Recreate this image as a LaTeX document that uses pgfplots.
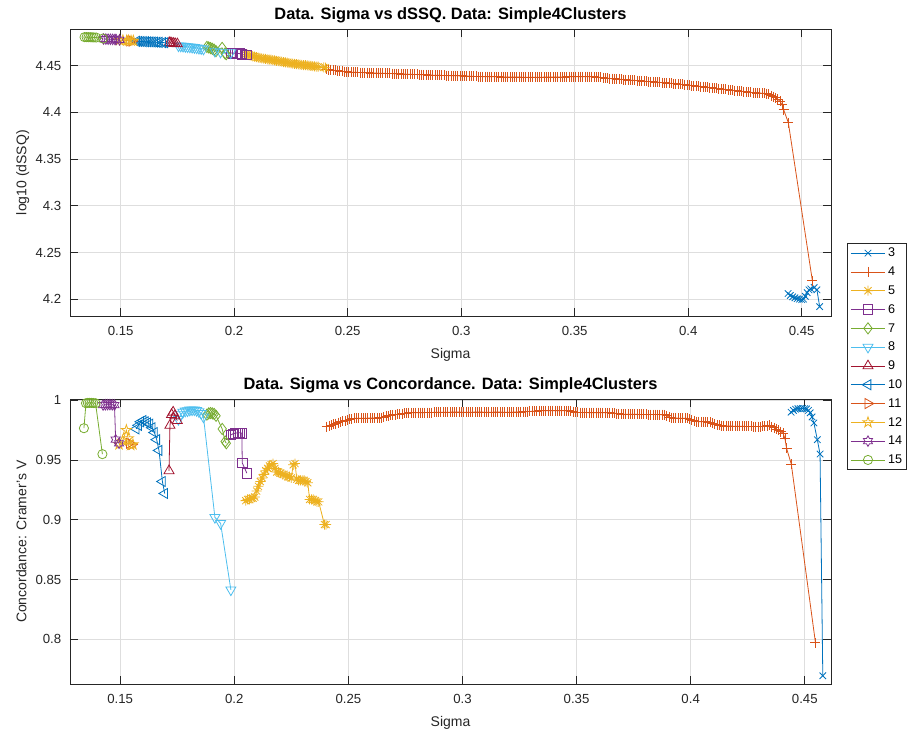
\documentclass[border=0pt]{standalone}
\usepackage{fontspec}
\setmainfont{Liberation Sans}
\usepackage{pgfplots}
\usepackage{pgfplotstable}
\pgfplotsset{compat=1.18}

\definecolor{c1}{rgb}{0,0.447,0.741}
\definecolor{c2}{rgb}{0.85,0.325,0.098}
\definecolor{c3}{rgb}{0.929,0.694,0.125}
\definecolor{c4}{rgb}{0.494,0.184,0.556}
\definecolor{c5}{rgb}{0.466,0.674,0.188}
\definecolor{c6}{rgb}{0.301,0.745,0.933}
\definecolor{c7}{rgb}{0.635,0.078,0.184}
\definecolor{axgray}{rgb}{0.15,0.15,0.15}

\pgfdeclareplotmark{mstar}{%
  \pgfpathmoveto{\pgfqpoint{-\pgfplotmarksize}{0pt}}\pgfpathlineto{\pgfqpoint{\pgfplotmarksize}{0pt}}%
  \pgfpathmoveto{\pgfqpoint{0pt}{-\pgfplotmarksize}}\pgfpathlineto{\pgfqpoint{0pt}{\pgfplotmarksize}}%
  \pgfpathmoveto{\pgfqpoint{-.7071\pgfplotmarksize}{-.7071\pgfplotmarksize}}\pgfpathlineto{\pgfqpoint{.7071\pgfplotmarksize}{.7071\pgfplotmarksize}}%
  \pgfpathmoveto{\pgfqpoint{-.7071\pgfplotmarksize}{.7071\pgfplotmarksize}}\pgfpathlineto{\pgfqpoint{.7071\pgfplotmarksize}{-.7071\pgfplotmarksize}}%
  \pgfusepathqstroke}
\pgfdeclareplotmark{pentagram}{%
  \pgfpathmoveto{\pgfpointpolar{90}{1.3\pgfplotmarksize}}%
  \pgfpathlineto{\pgfpointpolar{126}{0.5\pgfplotmarksize}}%
  \pgfpathlineto{\pgfpointpolar{162}{1.3\pgfplotmarksize}}%
  \pgfpathlineto{\pgfpointpolar{198}{0.5\pgfplotmarksize}}%
  \pgfpathlineto{\pgfpointpolar{234}{1.3\pgfplotmarksize}}%
  \pgfpathlineto{\pgfpointpolar{270}{0.5\pgfplotmarksize}}%
  \pgfpathlineto{\pgfpointpolar{306}{1.3\pgfplotmarksize}}%
  \pgfpathlineto{\pgfpointpolar{342}{0.5\pgfplotmarksize}}%
  \pgfpathlineto{\pgfpointpolar{18}{1.3\pgfplotmarksize}}%
  \pgfpathlineto{\pgfpointpolar{54}{0.5\pgfplotmarksize}}%
  \pgfpathclose\pgfusepathqstroke}
\pgfdeclareplotmark{hexagram}{%
  \pgfpathmoveto{\pgfpointpolar{90}{1.25\pgfplotmarksize}}%
  \pgfpathlineto{\pgfpointpolar{120}{0.72\pgfplotmarksize}}%
  \pgfpathlineto{\pgfpointpolar{150}{1.25\pgfplotmarksize}}%
  \pgfpathlineto{\pgfpointpolar{180}{0.72\pgfplotmarksize}}%
  \pgfpathlineto{\pgfpointpolar{210}{1.25\pgfplotmarksize}}%
  \pgfpathlineto{\pgfpointpolar{240}{0.72\pgfplotmarksize}}%
  \pgfpathlineto{\pgfpointpolar{270}{1.25\pgfplotmarksize}}%
  \pgfpathlineto{\pgfpointpolar{300}{0.72\pgfplotmarksize}}%
  \pgfpathlineto{\pgfpointpolar{330}{1.25\pgfplotmarksize}}%
  \pgfpathlineto{\pgfpointpolar{0}{0.72\pgfplotmarksize}}%
  \pgfpathlineto{\pgfpointpolar{30}{1.25\pgfplotmarksize}}%
  \pgfpathlineto{\pgfpointpolar{60}{0.72\pgfplotmarksize}}%
  \pgfpathclose\pgfusepathqstroke}

\pgfplotsset{
  s3/.style={c1, line width=0.4pt, mark=x, mark size=2.3pt, mark options={solid}},
  s4/.style={c2, line width=0.4pt, mark=+, mark size=2.5pt, mark options={solid}},
  s5/.style={c3, line width=0.4pt, mark=mstar, mark size=2.5pt, mark options={solid}},
  s6/.style={c4, line width=0.4pt, mark=square, mark size=2.4pt, mark options={solid}},
  s7/.style={c5, line width=0.4pt, mark=diamond, mark size=2.8pt, mark options={solid}},
  s8/.style={c6, line width=0.4pt, mark=triangle, mark size=2.9pt, mark options={solid, rotate=180}},
  s9/.style={c7, line width=0.4pt, mark=triangle, mark size=2.9pt, mark options={solid}},
  s10/.style={c1, line width=0.4pt, mark=triangle, mark size=2.9pt, mark options={solid, rotate=90}},
  s11/.style={c2, line width=0.4pt, mark=triangle, mark size=2.9pt, mark options={solid, rotate=-90}},
  s12/.style={c3, line width=0.4pt, mark=pentagram, mark size=2.1pt, mark options={solid}},
  s14/.style={c4, line width=0.4pt, mark=hexagram, mark size=2.1pt, mark options={solid}},
  s15/.style={c5, line width=0.4pt, mark=o, mark size=2.3pt, mark options={solid}},
  myaxis/.style={
    scale only axis, width=380.5pt,
    axis line style={draw=axgray, line width=0.4pt},
    tick style={draw=axgray, line width=0.4pt},
    tick align=inside, major tick length=3.8pt,
    grid=major, grid style={draw=black!13, line width=0.4pt},
    ticklabel style={font=\fontsize{6.6}{7}\selectfont, text=axgray},
    /pgf/number format/assume math mode=true,
    scaled ticks=false,
    xtick={0.15,0.2,0.25,0.3,0.35,0.4,0.45},
    xticklabel style={anchor=base, yshift=-10pt},
    yticklabel style={anchor=east, inner sep=0pt, xshift=-4.2pt},
    label style={font=\fontsize{7}{8}\selectfont, text=axgray},
    title style={font=\bfseries\fontsize{8.2}{9}\selectfont, at={(axis description cs:0.5,1)}, anchor=base, yshift=-1.2pt},
    xlabel style={at={(axis description cs:0.5,0)}, anchor=base, yshift=-21.5pt},
    ylabel style={at={(axis description cs:-0.0572,0.5)}, anchor=base},
  },
}

% columns: sigma, log10(dSSQ), Cramer's V
\pgfplotstableread{
x d c
0.4440 4.2060 0.9900
0.4450 4.2040 0.9915
0.4460 4.2025 0.9925
0.4470 4.2015 0.9930
0.4480 4.2005 0.9930
0.4490 4.2000 0.9932
0.4500 4.1995 0.9930
0.4508 4.2000 0.9928
0.4516 4.2030 0.9915
0.4524 4.2070 0.9895
0.4532 4.2100 0.9860
0.4540 4.2110 0.9810
0.4555 4.2125 0.9670
0.4567 4.2100 0.9550
0.4579 4.1920 0.7695
}\tthree

\pgfplotstableread{
x d c
0.2405 4.4460 0.9780
0.2415 4.4457 0.9785
0.2425 4.4454 0.9790
0.2435 4.4451 0.9798
0.2445 4.4448 0.9805
0.2455 4.4445 0.9812
0.2465 4.4442 0.9820
0.2475 4.4439 0.9825
0.2485 4.4436 0.9830
0.2495 4.4434 0.9835
0.2505 4.4431 0.9840
0.2515 4.4430 0.9844
0.2525 4.4429 0.9848
0.2535 4.4428 0.9849
0.2545 4.4427 0.9850
0.2555 4.4426 0.9850
0.2565 4.4426 0.9850
0.2575 4.4425 0.9850
0.2585 4.4424 0.9850
0.2595 4.4423 0.9851
0.2605 4.4422 0.9852
0.2615 4.4421 0.9852
0.2625 4.4420 0.9852
0.2635 4.4419 0.9853
0.2645 4.4418 0.9855
0.2655 4.4418 0.9860
0.2665 4.4417 0.9865
0.2675 4.4416 0.9870
0.2685 4.4416 0.9875
0.2695 4.4415 0.9878
0.2705 4.4414 0.9880
0.2715 4.4413 0.9881
0.2725 4.4412 0.9882
0.2735 4.4411 0.9886
0.2745 4.4410 0.9890
0.2755 4.4409 0.9893
0.2765 4.4408 0.9895
0.2775 4.4407 0.9895
0.2785 4.4406 0.9895
0.2795 4.4405 0.9896
0.2805 4.4405 0.9896
0.2815 4.4404 0.9896
0.2825 4.4403 0.9896
0.2835 4.4402 0.9897
0.2845 4.4401 0.9897
0.2855 4.4400 0.9897
0.2865 4.4399 0.9897
0.2875 4.4398 0.9899
0.2885 4.4398 0.9900
0.2895 4.4397 0.9900
0.2905 4.4396 0.9900
0.2915 4.4395 0.9900
0.2925 4.4395 0.9900
0.2935 4.4394 0.9900
0.2945 4.4393 0.9900
0.2955 4.4392 0.9901
0.2965 4.4392 0.9901
0.2975 4.4391 0.9901
0.2985 4.4391 0.9901
0.2995 4.4390 0.9900
0.3005 4.4390 0.9900
0.3015 4.4389 0.9900
0.3025 4.4388 0.9900
0.3035 4.4387 0.9900
0.3045 4.4386 0.9900
0.3055 4.4385 0.9901
0.3065 4.4384 0.9901
0.3075 4.4383 0.9901
0.3085 4.4383 0.9901
0.3095 4.4382 0.9900
0.3105 4.4382 0.9900
0.3115 4.4381 0.9900
0.3125 4.4381 0.9900
0.3135 4.4380 0.9900
0.3145 4.4380 0.9901
0.3155 4.4380 0.9901
0.3165 4.4380 0.9901
0.3175 4.4379 0.9900
0.3185 4.4379 0.9900
0.3195 4.4378 0.9900
0.3205 4.4378 0.9900
0.3215 4.4378 0.9900
0.3225 4.4378 0.9901
0.3235 4.4377 0.9901
0.3245 4.4377 0.9902
0.3255 4.4377 0.9902
0.3265 4.4377 0.9903
0.3275 4.4376 0.9904
0.3285 4.4376 0.9905
0.3295 4.4376 0.9906
0.3305 4.4376 0.9908
0.3315 4.4376 0.9909
0.3325 4.4376 0.9910
0.3335 4.4376 0.9911
0.3345 4.4376 0.9912
0.3355 4.4376 0.9912
0.3365 4.4377 0.9912
0.3375 4.4377 0.9912
0.3385 4.4377 0.9913
0.3395 4.4377 0.9913
0.3405 4.4378 0.9913
0.3415 4.4378 0.9913
0.3425 4.4378 0.9913
0.3435 4.4378 0.9912
0.3445 4.4379 0.9912
0.3455 4.4379 0.9912
0.3465 4.4380 0.9912
0.3475 4.4380 0.9908
0.3485 4.4380 0.9905
0.3495 4.4380 0.9900
0.3505 4.4381 0.9898
0.3515 4.4381 0.9897
0.3525 4.4381 0.9897
0.3535 4.4381 0.9897
0.3545 4.4382 0.9897
0.3555 4.4382 0.9896
0.3565 4.4382 0.9896
0.3575 4.4381 0.9896
0.3585 4.4380 0.9896
0.3595 4.4378 0.9896
0.3605 4.4377 0.9896
0.3615 4.4373 0.9895
0.3625 4.4370 0.9895
0.3635 4.4367 0.9895
0.3645 4.4365 0.9895
0.3655 4.4362 0.9893
0.3665 4.4360 0.9892
0.3675 4.4358 0.9889
0.3685 4.4356 0.9886
0.3695 4.4354 0.9884
0.3705 4.4352 0.9883
0.3715 4.4350 0.9882
0.3725 4.4348 0.9882
0.3735 4.4346 0.9882
0.3745 4.4345 0.9882
0.3755 4.4343 0.9882
0.3765 4.4342 0.9882
0.3775 4.4340 0.9881
0.3785 4.4338 0.9881
0.3795 4.4336 0.9881
0.3805 4.4334 0.9881
0.3815 4.4332 0.9880
0.3825 4.4330 0.9880
0.3835 4.4328 0.9880
0.3845 4.4326 0.9880
0.3855 4.4324 0.9880
0.3865 4.4322 0.9880
0.3875 4.4320 0.9879
0.3885 4.4318 0.9878
0.3895 4.4316 0.9870
0.3905 4.4314 0.9860
0.3915 4.4312 0.9855
0.3925 4.4310 0.9852
0.3935 4.4307 0.9851
0.3945 4.4305 0.9850
0.3955 4.4302 0.9850
0.3965 4.4300 0.9850
0.3975 4.4298 0.9849
0.3985 4.4296 0.9848
0.3995 4.4293 0.9842
0.4005 4.4290 0.9835
0.4015 4.4287 0.9828
0.4025 4.4284 0.9822
0.4035 4.4281 0.9821
0.4045 4.4279 0.9820
0.4055 4.4276 0.9820
0.4065 4.4274 0.9820
0.4075 4.4271 0.9818
0.4085 4.4268 0.9815
0.4095 4.4265 0.9808
0.4105 4.4262 0.9800
0.4115 4.4259 0.9795
0.4125 4.4256 0.9790
0.4135 4.4253 0.9788
0.4145 4.4250 0.9785
0.4155 4.4248 0.9785
0.4165 4.4245 0.9785
0.4175 4.4242 0.9784
0.4185 4.4239 0.9783
0.4195 4.4236 0.9783
0.4205 4.4233 0.9782
0.4215 4.4230 0.9782
0.4225 4.4228 0.9782
0.4235 4.4225 0.9781
0.4245 4.4222 0.9781
0.4255 4.4220 0.9781
0.4265 4.4217 0.9781
0.4275 4.4214 0.9780
0.4285 4.4212 0.9780
0.4295 4.4210 0.9780
0.4305 4.4208 0.9780
0.4315 4.4206 0.9782
0.4325 4.4205 0.9785
0.4335 4.4203 0.9788
0.4345 4.4200 0.9790
0.4355 4.4192 0.9780
0.4365 4.4180 0.9770
0.4375 4.4168 0.9760
0.4385 4.4155 0.9750
0.4395 4.4138 0.9738
0.4405 4.4118 0.9724
0.4413 4.4080 0.9680
0.4420 4.4030 0.9600
0.4441 4.3890 0.9465
0.4547 4.2196 0.7970
}\tfour

\pgfplotstableread{
x d c
0.2050 4.4620 0.9160
0.2058 4.4617 0.9170
0.2066 4.4612 0.9170
0.2074 4.4608 0.9180
0.2082 4.4600 0.9180
0.2090 4.4596 0.9190
0.2098 4.4590 0.9240
0.2106 4.4586 0.9280
0.2114 4.4582 0.9320
0.2122 4.4578 0.9350
0.2130 4.4575 0.9380
0.2138 4.4572 0.9410
0.2146 4.4568 0.9430
0.2154 4.4565 0.9450
0.2162 4.4563 0.9460
0.2170 4.4560 0.9470
0.2178 4.4556 0.9430
0.2186 4.4552 0.9400
0.2194 4.4549 0.9400
0.2202 4.4546 0.9390
0.2210 4.4542 0.9380
0.2218 4.4538 0.9380
0.2226 4.4535 0.9370
0.2234 4.4531 0.9360
0.2242 4.4528 0.9360
0.2250 4.4525 0.9350
0.2258 4.4522 0.9460
0.2266 4.4520 0.9470
0.2274 4.4517 0.9340
0.2282 4.4514 0.9330
0.2290 4.4511 0.9330
0.2298 4.4508 0.9330
0.2306 4.4506 0.9330
0.2314 4.4504 0.9320
0.2322 4.4502 0.9310
0.2330 4.4500 0.9170
0.2338 4.4497 0.9170
0.2346 4.4495 0.9170
0.2354 4.4492 0.9160
0.2362 4.4490 0.9150
0.2370 4.4488 0.9150
0.2395 4.4480 0.8960
0.2402 4.4478 0.8960
}\tfive

\pgfplotstableread{
x d c
0.1985 4.4635 0.9710
0.1995 4.4634 0.9720
0.2005 4.4632 0.9725
0.2015 4.4630 0.9728
0.2025 4.4628 0.9728
0.2033 4.4626 0.9725
0.2035 4.4622 0.9475
0.2055 4.4615 0.9390
}\tsix

\pgfplotstableread{
x d c
0.1880 4.4700 0.9880
0.1888 4.4695 0.9890
0.1896 4.4688 0.9893
0.1904 4.4680 0.9890
0.1912 4.4670 0.9885
0.1920 4.4655 0.9870
0.1947 4.4690 0.9760
0.1960 4.4630 0.9655
0.1965 4.4622 0.9640
}\tseven

\pgfplotstableread{
x d c
0.1755 4.4712 0.9840
0.1765 4.4710 0.9880
0.1775 4.4708 0.9900
0.1785 4.4705 0.9910
0.1795 4.4702 0.9912
0.1805 4.4700 0.9918
0.1815 4.4697 0.9920
0.1825 4.4694 0.9920
0.1835 4.4690 0.9915
0.1845 4.4686 0.9905
0.1855 4.4682 0.9890
0.1865 4.4678 0.9860
0.1915 4.4655 0.9020
0.1940 4.4645 0.8970
0.1985 4.4638 0.8414
}\teight

\pgfplotstableread{
x d c
0.1714 4.4745 0.9410
0.1718 4.4743 0.9790
0.1725 4.4740 0.9880
0.1732 4.4738 0.9900
0.1740 4.4735 0.9870
0.1750 4.4732 0.9830
}\tnine

\pgfplotstableread{
x d c
0.1570 4.4760 0.9760
0.1580 4.4759 0.9790
0.1590 4.4758 0.9820
0.1600 4.4757 0.9830
0.1610 4.4756 0.9820
0.1620 4.4755 0.9810
0.1630 4.4754 0.9800
0.1640 4.4753 0.9770
0.1650 4.4752 0.9730
0.1660 4.4750 0.9670
0.1670 4.4749 0.9580
0.1685 4.4747 0.9320
0.1695 4.4745 0.9220
}\tten

\pgfplotstableread{
x d c
0.1540 4.4765 0.9640
0.1550 4.4763 0.9630
}\televen

\pgfplotstableread{
x d c
0.1495 4.4772 0.9630
0.1510 4.4770 0.9660
0.1527 4.4768 0.9750
0.1535 4.4767 0.9680
0.1546 4.4766 0.9625
0.1556 4.4765 0.9630
}\ttwelve

\pgfplotstableread{
x d c
0.1425 4.4785 0.9960
0.1435 4.4784 0.9962
0.1445 4.4783 0.9963
0.1455 4.4782 0.9963
0.1465 4.4781 0.9962
0.1475 4.4780 0.9960
0.1480 4.4779 0.9670
0.1495 4.4776 0.9640
}\tfourteen

\pgfplotstableread{
x d c
0.1341 4.4805 0.9766
0.1350 4.4805 0.9975
0.1358 4.4804 0.9978
0.1366 4.4804 0.9978
0.1374 4.4803 0.9978
0.1382 4.4802 0.9977
0.1392 4.4801 0.9975
0.1422 4.4790 0.9549
}\tfifteen

\begin{document}
\begin{tikzpicture}
\path[use as bounding box] (0,0) rectangle (455pt,369pt);

\begin{axis}[myaxis,
  at={(35pt,211pt)}, anchor=south west, height=143.4pt,
  xmin=0.1277, xmax=0.4629, ymin=4.182, ymax=4.489,
  ytick={4.2,4.25,4.3,4.35,4.4,4.45},
  title={Data. Sigma vs dSSQ. Data: Simple4Clusters},
  xlabel={Sigma}, ylabel={log10 (dSSQ)},
]
\addplot[s3] table[x=x,y=d] {\tthree};
\addplot[s4] table[x=x,y=d] {\tfour};
\addplot[s5] table[x=x,y=d] {\tfive};
\addplot[s6] table[x=x,y=d] {\tsix};
\addplot[s7] table[x=x,y=d] {\tseven};
\addplot[s8] table[x=x,y=d] {\teight};
\addplot[s9] table[x=x,y=d] {\tnine};
\addplot[s10] table[x=x,y=d] {\tten};
\addplot[s11] table[x=x,y=d] {\televen};
\addplot[s12] table[x=x,y=d] {\ttwelve};
\addplot[s14] table[x=x,y=d] {\tfourteen};
\addplot[s15] table[x=x,y=d] {\tfifteen};
\end{axis}

\begin{axis}[myaxis,
  at={(35pt,27pt)}, anchor=south west, height=142.35pt,
  xmin=0.128, xmax=0.4615, ymin=0.7626, ymax=1.0008,
  ytick={0.8,0.85,0.9,0.95,1},
  title={Data. Sigma vs Concordance. Data: Simple4Clusters},
  xlabel={Sigma}, ylabel={Concordance: Cramer's V},
  legend style={at={(axis description cs:1.021,1.5474)}, anchor=north west,
    draw=axgray, line width=0.4pt, fill=white,
    font=\fontsize{6.3}{7}\selectfont, text=black,
    inner xsep=1.6pt, inner ysep=1.5pt,
    nodes={inner xsep=0.6pt, inner ysep=0pt, text height=5pt, text depth=1.3pt},
    row sep=3.1pt, column sep=0.8pt},
  legend cell align=left,
  legend image code/.code={\draw[mark repeat=2,mark phase=2] plot coordinates {(0pt,0pt) (8.5pt,0pt) (17pt,0pt)};},
]
\addplot[s3] table[x=x,y=c] {\tthree};
\addplot[s4] table[x=x,y=c] {\tfour};
\addplot[s5] table[x=x,y=c] {\tfive};
\addplot[s6] table[x=x,y=c] {\tsix};
\addplot[s7] table[x=x,y=c] {\tseven};
\addplot[s8] table[x=x,y=c] {\teight};
\addplot[s9] table[x=x,y=c] {\tnine};
\addplot[s10] table[x=x,y=c] {\tten};
\addplot[s11] table[x=x,y=c] {\televen};
\addplot[s12] table[x=x,y=c] {\ttwelve};
\addplot[s14] table[x=x,y=c] {\tfourteen};
\addplot[s15] table[x=x,y=c] {\tfifteen};
\legend{3,4,5,6,7,8,9,10,11,12,14,15}
\end{axis}
\end{tikzpicture}
\end{document}
